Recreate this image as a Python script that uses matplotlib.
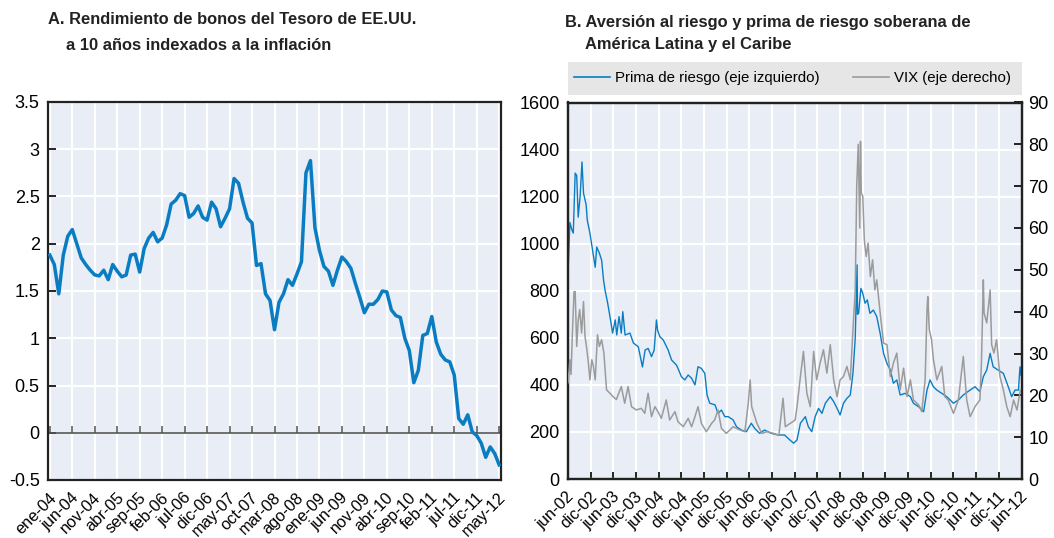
import matplotlib
matplotlib.use("Agg")
import matplotlib.pyplot as plt
import matplotlib.transforms as mtransforms
from matplotlib.patches import Rectangle
import numpy as np

plt.rcParams['font.family'] = ['Liberation Sans', 'DejaVu Sans']

# Panel A: monthly TIPS 10y yield, ene-04 .. may-12
tips = [1.88, 1.78, 1.47, 1.88, 2.08, 2.15, 2.00, 1.85, 1.78, 1.72, 1.67, 1.66,
        1.72, 1.62, 1.78, 1.71, 1.65, 1.67, 1.88, 1.89, 1.70, 1.95, 2.06, 2.12,
        2.02, 2.06, 2.20, 2.42, 2.46, 2.53, 2.51, 2.28, 2.32, 2.40, 2.28, 2.25,
        2.44, 2.37, 2.18, 2.27, 2.37, 2.69, 2.64, 2.44, 2.27, 2.22, 1.77, 1.79,
        1.47, 1.40, 1.09, 1.38, 1.47, 1.62, 1.56, 1.68, 1.81, 2.75, 2.88, 2.17,
        1.93, 1.76, 1.71, 1.56, 1.72, 1.86, 1.81, 1.74, 1.58, 1.43, 1.27, 1.36,
        1.36, 1.41, 1.50, 1.49, 1.30, 1.24, 1.22, 1.00, 0.87, 0.53, 0.66, 1.03,
        1.05, 1.23, 0.96, 0.83, 0.77, 0.75, 0.61, 0.15, 0.09, 0.19, 0.01, -0.03,
        -0.11, -0.26, -0.15, -0.22, -0.34]
labels_a = ['ene-04', 'jun-04', 'nov-04', 'abr-05', 'sep-05', 'feb-06', 'jul-06',
            'dic-06', 'may-07', 'oct-07', 'mar-08', 'ago-08', 'ene-09', 'jun-09',
            'nov-09', 'abr-10', 'sep-10', 'feb-11', 'jul-11', 'dic-11', 'may-12']

# Panel B: months since jun-02
prima_m = [0.0, 0.5, 1.0, 1.4, 1.9, 2.3, 2.7, 3.2, 3.7, 4.1, 4.8, 5.1, 5.8, 6.3, 7.2, 7.6,
           8.3, 8.9, 9.4, 9.8, 10.5, 11.4, 11.8, 12.5, 12.9, 13.5, 14.1, 14.5, 15.1, 16.4,
           17.3, 18.6, 19.7, 20.4, 21.2, 22.1, 22.8, 23.4, 23.7, 24.3, 25.2, 26.5, 27.4,
           28.7, 29.1, 30.0, 30.9, 31.8, 32.7, 33.6, 34.4, 35.3, 36.2, 36.8, 37.5, 38.9,
           39.7, 40.6, 41.5, 42.4, 43.7, 44.6, 45.9, 47.2, 48.5, 49.4, 50.7, 52.0, 53.8,
           55.6, 57.3, 58.7, 59.7, 60.6, 61.5, 62.8, 63.6, 64.5, 65.4, 66.3, 67.2, 68.1,
           69.4, 70.3, 71.2, 72.0, 72.9, 73.8, 74.7, 75.4, 76.0, 76.5, 76.6, 76.9, 77.5,
           78.0, 78.6, 79.2, 79.9, 80.8, 81.7, 82.6, 83.5, 84.4, 85.3, 86.1, 87.0, 87.9,
           89.2, 90.6, 91.4, 92.8, 94.1, 95.0, 95.8, 96.7, 97.6, 98.9, 100.2, 102.0,
           103.3, 104.6, 106.4, 107.7, 109.0, 109.9, 110.8, 111.7, 112.5, 113.8, 115.2,
           116.5, 117.4, 118.3, 119.2, 119.6, 119.9]
prima_v = [875, 1090, 1060, 1045, 1300, 1290, 1113, 1200, 1347, 1215, 1165, 1100, 1045, 994, 900, 986,
           960, 930, 846, 803, 747, 662, 620, 676, 612, 690, 620, 711, 612, 620,
           578, 562, 476, 548, 555, 520, 548, 676, 633, 605, 591, 548, 506,
           484, 470, 435, 421, 442, 428, 400, 477, 470, 449, 357, 322, 315,
           279, 293, 265, 265, 251, 222, 208, 201, 237, 215, 194, 208, 194,
           187, 187, 166, 152, 166, 237, 265, 222, 201, 265, 300, 279, 322,
           350, 329, 300, 272, 322, 343, 357, 449, 598, 910, 700, 704, 810,
           789, 747, 761, 704, 718, 690, 619, 534, 491, 463, 407, 421, 357,
           364, 350, 322, 307, 286, 378, 421, 392, 378, 364, 350, 322,
           336, 357, 378, 392, 371, 435, 463, 534, 477, 463, 449,
           392, 350, 378, 378, 477, 440]

vix_m = [0.0, 0.3, 0.5, 0.8, 1.2, 1.6, 1.9, 2.3, 2.7, 3.1, 3.6, 4.1, 4.5, 5.0, 5.4, 5.8,
         6.3, 6.7, 7.2, 7.8, 8.3, 8.9, 9.5, 10.2, 11.1, 11.9, 12.8, 14.1, 15.0, 15.9,
         16.8, 18.1, 19.4, 20.3, 21.2, 22.1, 23.0, 23.8, 24.7, 26.0, 26.9, 28.3, 29.1,
         30.5, 31.8, 32.7, 33.6, 34.4, 35.3, 36.6, 38.0, 38.8, 39.7, 40.6, 41.9, 43.7,
         45.5, 46.8, 47.7, 48.2, 48.6, 50.0, 51.3, 52.6, 54.4, 55.8, 56.9, 57.5, 58.8,
         60.1, 60.6, 61.5, 62.3, 63.2, 64.1, 65.0, 65.8, 66.7, 67.6, 68.5, 69.4, 70.3,
         71.2, 72.0, 72.9, 73.8, 74.7, 75.4, 76.0, 76.4, 76.8, 77.2, 77.4, 77.6, 78.0,
         78.4, 78.9, 79.4, 80.0, 80.6, 81.2, 81.7, 82.6, 83.5, 84.4, 85.3, 86.1, 87.0,
         87.9, 88.8, 89.7, 90.6, 91.4, 92.8, 93.6, 94.5, 95.0, 95.2, 95.6, 96.2, 96.7,
         97.6, 98.9, 99.7, 100.6, 102.0, 103.3, 104.6, 105.5, 106.4, 107.7, 109.0,
         109.4, 109.9, 110.1, 110.8, 111.7, 112.1, 112.7, 113.4, 114.3, 115.2, 116.1,
         117.0, 117.9, 118.8, 119.7]
vix_v = [23.0, 26.0, 28.5, 25.0, 35.7, 44.8, 44.8, 31.7, 38.0, 40.5, 34.9, 42.4, 34.1, 30.9, 27.7, 23.7,
         28.5, 27.1, 23.7, 34.5, 31.7, 33.3, 30.1, 21.3, 20.5, 19.7, 19.0, 22.1, 18.1, 22.1,
         17.3, 16.5, 16.9, 15.7, 20.5, 14.9, 17.3, 16.1, 14.5, 18.9, 14.1, 16.1, 13.7,
         12.5, 14.5, 12.5, 14.9, 17.3, 13.3, 11.3, 13.3, 14.1, 16.5, 12.1, 10.9, 12.5,
         11.7, 11.3, 18.1, 23.7, 17.3, 13.3, 10.9, 11.3, 10.9, 10.5, 19.3, 12.5, 13.3,
         14.1, 17.3, 24.5, 30.5, 20.5, 17.3, 30.5, 23.7, 27.7, 30.9, 25.3, 32.1, 23.7,
         19.7, 23.7, 24.5, 26.9, 23.7, 35.7, 45.0, 70.0, 80.0, 60.0, 80.7, 68.4, 67.6,
         57.2, 53.2, 56.4, 48.4, 52.4, 45.2, 47.6, 39.7, 32.5, 32.1, 24.5, 27.7, 30.1,
         21.3, 26.5, 19.7, 23.7, 18.9, 17.7, 16.1, 23.7, 40.5, 43.6, 35.7, 33.3, 28.5,
         23.7, 26.9, 19.7, 18.9, 15.7, 18.9, 29.3, 18.9, 14.9, 17.3, 18.9,
         27.7, 47.6, 39.7, 37.3, 45.2, 32.1, 30.1, 33.3, 24.5, 21.3, 17.3,
         14.9, 18.9, 16.5, 21.3]
labels_b = ['jun-02', 'dic-02', 'jun-03', 'dic-03', 'jun-04', 'dic-04', 'jun-05',
            'dic-05', 'jun-06', 'dic-06', 'jun-07', 'dic-07', 'jun-08', 'dic-08',
            'jun-09', 'dic-09', 'jun-10', 'dic-10', 'jun-11', 'dic-11', 'jun-12']

bg = '#e8edf6'
blue = '#0a7dc2'
grey = '#9b9b9b'
tick_fs = 13
xlab_fs = 11.8
title_fs = 11.9

fig = plt.figure(figsize=(10.54, 5.38), dpi=100)
axA = fig.add_axes([48/1054, 1-480/538, 453/1054, 378/538])
axB = fig.add_axes([568/1054, 1-479/538, 453.5/1054, 376.5/538])
shift = mtransforms.ScaledTranslation(4/100, 0, fig.dpi_scale_trans)


def style(ax):
    ax.set_facecolor(bg)
    ax.set_axisbelow(True)
    ax.grid(True, color='white', lw=1.6)
    for s in ax.spines.values():
        s.set_color('#222222')
        s.set_linewidth(1.6)


# ---- Panel A
style(axA)
xa = np.arange(len(tips))
axA.plot(xa, tips, color=blue, lw=2.5, zorder=3)
axA.set_xlim(-0.4, 100.4)
axA.set_ylim(-0.5, 3.5)
axA.set_yticks(np.arange(-0.5, 3.51, 0.5))
axA.set_yticklabels(['-0.5', '0', '0.5', '1', '1.5', '2', '2.5', '3', '3.5'])
axA.set_xticks(xa[::5])
axA.set_xticklabels(labels_a, rotation=45, ha='right', va='center', rotation_mode='anchor')
axA.tick_params(axis='x', length=0, pad=11, labelsize=xlab_fs)
axA.tick_params(axis='y', direction='in', length=6, width=1.2, labelsize=tick_fs, pad=6)
axA.axhline(0, color='#555555', lw=1.2, zorder=2)
axA.plot(xa[::5], np.zeros(len(xa[::5])), ls='none', marker=2, ms=5, mew=1.1, color='#555555', zorder=2)
fig.text(48/1054, 1-20/538, 'A. Rendimiento de bonos del Tesoro de EE.UU.', fontsize=title_fs,
         fontweight='bold', va='center', color='#222222')
fig.text(66/1054, 1-45/538, 'a 10 años indexados a la inflación', fontsize=title_fs,
         fontweight='bold', va='center', color='#222222')

# ---- Panel B
style(axB)
lp, = axB.plot(prima_m, prima_v, color=blue, lw=1.0, zorder=3)
axB.set_xlim(0, 120)
axB.set_ylim(0, 1600)
axB.set_yticks(np.arange(0, 1601, 200))
axB.set_xticks(np.arange(0, 121, 6))
axB.set_xticklabels(labels_b, rotation=45, ha='right', va='center', rotation_mode='anchor')
axB.tick_params(axis='x', direction='in', length=5, width=1.2, pad=11, labelsize=xlab_fs)
axB.tick_params(axis='y', length=0, labelsize=tick_fs, pad=6)

for t in axA.get_xticklabels() + axB.get_xticklabels():
    t.set_transform(t.get_transform() + shift)

axB2 = axB.twinx()
lv, = axB2.plot(vix_m, vix_v, color=grey, lw=1.1, zorder=3)
axB2.set_ylim(0, 90)
axB2.set_yticks(np.arange(0, 91, 10))
axB2.tick_params(axis='y', direction='in', length=6, width=1.2, labelsize=tick_fs, pad=5)
for s in axB2.spines.values():
    s.set_color('#222222')
    s.set_linewidth(1.6)

# legend strip above panel B
axB.add_patch(Rectangle((0, 1.0205), 1, 0.0875, transform=axB.transAxes,
                        facecolor='#e6e6e6', edgecolor='none', clip_on=False))
leg = axB.legend([lp, lv], ['Prima de riesgo (eje izquierdo)', 'VIX (eje derecho)'],
                 loc='center left', bbox_to_anchor=(0.0, 1.064), ncol=2,
                 borderaxespad=0, borderpad=0.4, fontsize=10.8, frameon=False,
                 handlelength=2.4, handletextpad=0.35, columnspacing=2.2)
for h in leg.get_lines():
    h.set_linewidth(1.2)

fig.text(565/1054, 1-22/538, 'B. Aversión al riesgo y prima de riesgo soberana de', fontsize=title_fs,
         fontweight='bold', va='center', color='#222222')
fig.text(585/1054, 1-45/538, 'América Latina y el Caribe', fontsize=title_fs,
         fontweight='bold', va='center', color='#222222')

fig.savefig('out.png', dpi=100)
